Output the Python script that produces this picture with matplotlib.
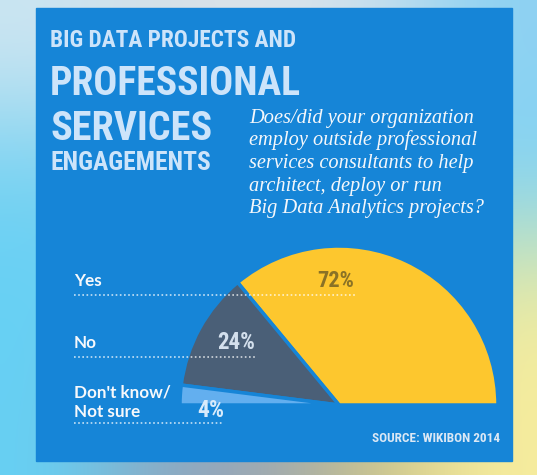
import matplotlib
matplotlib.use('Agg')
import matplotlib.pyplot as plt
from matplotlib.patches import Rectangle
import numpy as np

# survey data
answers = ['Yes', 'No', "Don't know/\nNot sure"]
shares = [72, 24, 4]
wedge_colors = ['#fdc72e', '#4a5f77', '#63afef']
pct_colors = ['#8a7226', '#d3dfec', '#d8ebfb']

title_lines = ['BIG DATA PROJECTS AND', 'PROFESSIONAL', 'SERVICES', 'ENGAGEMENTS']
question_lines = ['Does/did your organization',
                  'employ outside professional',
                  'services consultants to help',
                  'architect, deploy or run',
                  'Big Data Analytics projects?']
source = 'SOURCE: WIKIBON 2014'

W, H = 537, 475
panel = '#1685d7'
condensed = ['Roboto Condensed', 'Liberation Sans Narrow', 'DejaVu Sans Condensed',
             'Noto Sans Condensed', 'DejaVu Sans']

fig = plt.figure(figsize=(W / 100, H / 100), dpi=100)
fig.patch.set_facecolor('#86d3ef')

# blurry photo behind the panel
bg = fig.add_axes([0, 0, 1, 1])
backdrop = np.array([
    [[0.80, 0.90, 0.95], [0.85, 0.88, 0.90], [0.88, 0.90, 0.92], [0.80, 0.88, 0.93], [0.55, 0.82, 0.95]],
    [[0.45, 0.82, 0.95], [0.50, 0.80, 0.93], [0.50, 0.80, 0.93], [0.50, 0.80, 0.93], [0.50, 0.83, 0.96]],
    [[0.40, 0.82, 0.96], [0.45, 0.80, 0.94], [0.45, 0.80, 0.94], [0.55, 0.80, 0.90], [0.95, 0.93, 0.62]],
    [[0.40, 0.82, 0.96], [0.55, 0.65, 0.75], [0.62, 0.65, 0.70], [0.80, 0.76, 0.52], [0.97, 0.93, 0.62]],
])
bg.imshow(backdrop, extent=(0, W, H, 0), interpolation='bicubic', aspect='auto')
bg.add_patch(Rectangle((36, 8), 476, 453, color=panel, zorder=2))
bg.set_xlim(0, W)
bg.set_ylim(H, 0)
bg.axis('off')

# half pie: extra invisible wedge takes the lower half
cx, cy, r = 339, 405, 159
pie_ax = fig.add_axes([(cx - r) / W, (H - cy - r) / H, 2 * r / W, 2 * r / H])
wedges, _ = pie_ax.pie(shares + [sum(shares)], colors=wedge_colors + ['none'],
                       startangle=0, counterclock=True,
                       wedgeprops=dict(edgecolor=panel, linewidth=2.5))
wedges[-1].set_visible(False)
pie_ax.set_xlim(-1, 1)
pie_ax.set_ylim(-1, 1)

ov = fig.add_axes([0, 0, 1, 1])
ov.set_xlim(0, W)
ov.set_ylim(H, 0)
ov.axis('off')
ov.patch.set_alpha(0)

renderer = fig.canvas.get_renderer()


def fit(t, width):
    bb = t.get_window_extent(renderer)
    t.set_fontsize(t.get_fontsize() * width / bb.width)


# title
title_base = [47, 95, 140, 170]
title_w = [245, 251, 162, 161]
for line, yb, w in zip(title_lines, title_base, title_w):
    t = ov.text(50, yb, line, color='#cde4fa', fontsize=20, fontweight='bold',
                family=condensed, fontstretch='condensed', va='baseline')
    fit(t, w)

# question
q = []
for i, line in enumerate(question_lines):
    t = ov.text(249, 123 + i * 22.5, line, color='#f4f7fb', fontsize=14,
                family=['Liberation Serif', 'DejaVu Serif'], style='italic', va='baseline')
    q.append(t)
bb = q[1].get_window_extent(renderer)
for t in q:
    t.set_fontsize(14 * 229 / bb.width)

# answer labels with dotted rules
label_base = [286, 348, 398]
rule_y = [295, 357, 423]
rule_end = [356, 257, 224]
labs = []
for name, yb, ry, xe in zip(answers, label_base, rule_y, rule_end):
    t = ov.text(74, yb, name.split('\n')[0], color='#f6f8fb', fontsize=10,
                family=['Lato', 'DejaVu Sans'], fontweight='bold', va='baseline')
    labs.append(t)
    if '\n' in name:
        labs.append(ov.text(74, yb + 19, name.split('\n')[1], color='#f6f8fb', fontsize=10,
                            family=['Lato', 'DejaVu Sans'], fontweight='bold', va='baseline'))
    ov.plot([74, xe], [ry, ry], color='white', alpha=0.75, lw=1.2, ls=(0, (1, 1.5)))
bb = labs[2].get_window_extent(renderer)
for t in labs:
    t.set_fontsize(10 * 97 / bb.width)

# percentages
pct_pos = [(335.5, 287, 37), (236, 349, 38), (210.5, 417, 27)]
for v, c, (x, y, w) in zip(shares, pct_colors, pct_pos):
    t = ov.text(x, y, f'{v}%', color=c, fontsize=18, fontweight='bold',
                family=condensed, fontstretch='condensed', ha='center', va='baseline')
    fit(t, w)

t = ov.text(500, 442, source, color='#dbe8f5', fontsize=10, fontweight='bold',
            family=condensed, fontstretch='condensed', ha='right', va='baseline')
fit(t, 128)

fig.savefig('out.png', dpi=100)
